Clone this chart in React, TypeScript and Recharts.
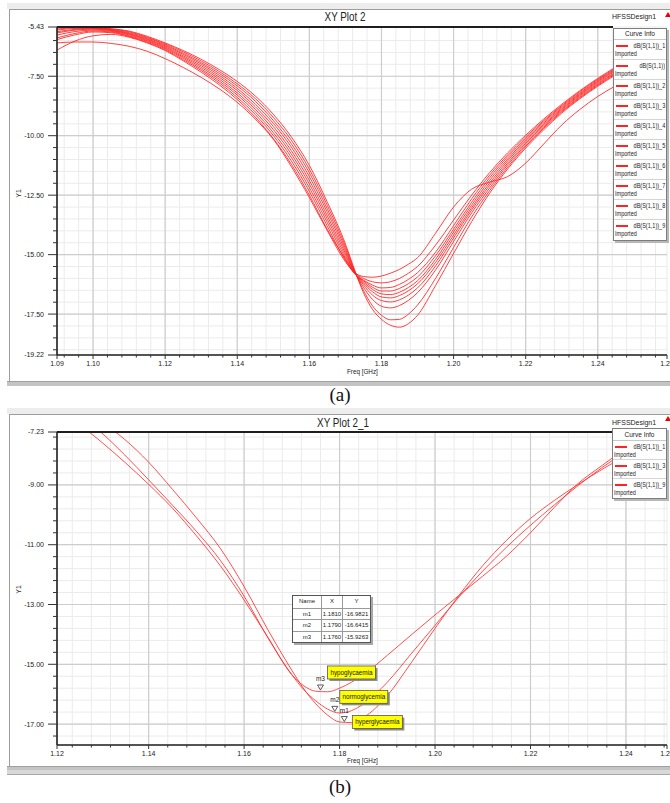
import React from 'react';
import { LineChart, Line, XAxis, YAxis, CartesianGrid, ReferenceLine, ReferenceDot } from 'recharts';

// ================= Plot (a): XY Plot 2 =================
const freqA = [1.09, 1.095, 1.1, 1.105, 1.11, 1.115, 1.12, 1.125, 1.13, 1.135, 1.14, 1.145, 1.15, 1.155, 1.16, 1.165, 1.17, 1.1725, 1.175, 1.1775, 1.18, 1.1825, 1.185, 1.1875, 1.19, 1.195, 1.2, 1.205, 1.21, 1.215, 1.22, 1.225, 1.23, 1.235, 1.24, 1.245, 1.25, 1.255, 1.26];

const dbA_1 = [-6.10, -6.06, -6.06, -6.12, -6.24, -6.45, -6.76, -7.13, -7.55, -8.03, -8.60, -9.30, -10.15, -11.30, -12.60, -14.00, -15.30, -15.75, -15.92, -15.95, -15.90, -15.78, -15.62, -15.40, -15.13, -14.10, -13.00, -12.25, -11.95, -11.72, -11.15, -10.35, -9.55, -8.90, -8.35, -7.90, -7.50, -7.15, -6.85];
const dbA_0 = [-6.40, -6.02, -5.80, -5.74, -5.86, -6.10, -6.42, -6.85, -7.33, -7.86, -8.48, -9.22, -10.12, -11.20, -12.50, -13.95, -15.20, -15.75, -16.00, -16.14, -16.19, -16.14, -16.00, -15.78, -15.50, -14.60, -13.55, -12.50, -11.55, -10.72, -9.98, -9.30, -8.68, -8.11, -7.59, -7.11, -6.67, -6.27, -5.90];
const dbA_2 = [-5.96, -5.76, -5.64, -5.67, -5.83, -6.07, -6.38, -6.80, -7.26, -7.78, -8.39, -9.11, -9.99, -11.06, -12.34, -13.81, -15.25, -15.80, -16.07, -16.28, -16.40, -16.38, -16.25, -16.04, -15.76, -14.90, -13.78, -12.66, -11.66, -10.81, -10.05, -9.36, -8.73, -8.15, -7.63, -7.15, -6.71, -6.31, -5.94];
const dbA_3 = [-5.89, -5.70, -5.60, -5.64, -5.80, -6.03, -6.34, -6.74, -7.20, -7.70, -8.29, -9.00, -9.87, -10.91, -12.19, -13.66, -15.15, -15.78, -16.10, -16.37, -16.53, -16.53, -16.42, -16.22, -15.94, -15.05, -13.93, -12.80, -11.77, -10.89, -10.12, -9.41, -8.77, -8.20, -7.67, -7.19, -6.75, -6.35, -5.98];
const dbA_4 = [-5.77, -5.62, -5.56, -5.61, -5.76, -6.00, -6.30, -6.69, -7.13, -7.62, -8.20, -8.89, -9.74, -10.77, -12.03, -13.52, -15.05, -15.76, -16.15, -16.46, -16.65, -16.68, -16.58, -16.38, -16.10, -15.20, -14.05, -12.92, -11.88, -10.98, -10.18, -9.47, -8.82, -8.24, -7.71, -7.23, -6.79, -6.39, -6.02];
const dbA_5 = [-5.68, -5.56, -5.52, -5.58, -5.73, -5.96, -6.26, -6.64, -7.06, -7.54, -8.10, -8.78, -9.61, -10.63, -11.88, -13.38, -14.95, -15.74, -16.20, -16.56, -16.78, -16.82, -16.72, -16.52, -16.23, -15.33, -14.18, -13.03, -11.99, -11.06, -10.25, -9.53, -8.87, -8.28, -7.75, -7.27, -6.83, -6.43, -6.06];
const dbA_6 = [-5.63, -5.53, -5.50, -5.56, -5.70, -5.93, -6.22, -6.58, -6.99, -7.46, -8.01, -8.67, -9.48, -10.48, -11.72, -13.23, -14.85, -15.72, -16.27, -16.70, -16.93, -16.99, -16.90, -16.70, -16.40, -15.48, -14.30, -13.13, -12.09, -11.15, -10.32, -9.58, -8.91, -8.32, -7.80, -7.32, -6.88, -6.48, -6.10];
const dbA_7 = [-5.56, -5.49, -5.48, -5.54, -5.67, -5.89, -6.18, -6.53, -6.93, -7.38, -7.91, -8.55, -9.36, -10.34, -11.56, -13.09, -14.75, -15.70, -16.37, -16.88, -17.17, -17.24, -17.14, -16.92, -16.60, -15.65, -14.45, -13.25, -12.20, -11.23, -10.39, -9.64, -8.96, -8.37, -7.84, -7.36, -6.92, -6.52, -6.14];
const dbA_8 = [-5.52, -5.46, -5.46, -5.52, -5.63, -5.86, -6.14, -6.47, -6.86, -7.30, -7.82, -8.44, -9.23, -10.19, -11.41, -12.94, -14.65, -15.66, -16.50, -17.15, -17.55, -17.74, -17.72, -17.50, -17.12, -16.00, -14.70, -13.42, -12.31, -11.32, -10.45, -9.69, -9.00, -8.41, -7.88, -7.40, -6.96, -6.56, -6.18];
const dbA_9 = [-5.47, -5.44, -5.45, -5.50, -5.60, -5.82, -6.10, -6.42, -6.79, -7.22, -7.72, -8.33, -9.10, -10.05, -11.25, -12.80, -14.55, -15.62, -16.60, -17.30, -17.72, -17.97, -18.05, -17.90, -17.55, -16.30, -14.95, -13.62, -12.42, -11.40, -10.52, -9.75, -9.05, -8.45, -7.92, -7.44, -7.00, -6.60, -6.22];

const namesA = ['dB(S(1,1))_1', 'dB(S(1,1))', 'dB(S(1,1))_2', 'dB(S(1,1))_3', 'dB(S(1,1))_4', 'dB(S(1,1))_5', 'dB(S(1,1))_6', 'dB(S(1,1))_7', 'dB(S(1,1))_8', 'dB(S(1,1))_9'];
const curvesA = [dbA_1, dbA_0, dbA_2, dbA_3, dbA_4, dbA_5, dbA_6, dbA_7, dbA_8, dbA_9];

const xDomainA = [1.09, 1.2592];
const yDomainA = [-19.22, -5.43];
const xMajorA = [1.10, 1.12, 1.14, 1.16, 1.18, 1.20, 1.22, 1.24];
const xLabelsA = [1.09, 1.10, 1.12, 1.14, 1.16, 1.18, 1.20, 1.22, 1.24, 1.2592];
const xMinorA = [1.092, 1.096, 1.104, 1.108, 1.112, 1.116, 1.124, 1.128, 1.132, 1.136, 1.144, 1.148, 1.152, 1.156, 1.164, 1.168, 1.172, 1.176, 1.184, 1.188, 1.192, 1.196, 1.204, 1.208, 1.212, 1.216, 1.224, 1.228, 1.232, 1.236, 1.244, 1.248, 1.252, 1.256];
const yMajorA = [-7.5, -10, -12.5, -15, -17.5];
const yLabelsA = [-5.43, -7.5, -10, -12.5, -15, -17.5, -19.22];
const yMinorA = [-6.0, -6.5, -7.0, -8.0, -8.5, -9.0, -9.5, -10.5, -11.0, -11.5, -12.0, -13.0, -13.5, -14.0, -14.5, -15.5, -16.0, -16.5, -17.0, -18.0, -18.5, -19.0];

// ================= Plot (b): XY Plot 2_1 =================
const freqB = [1.1208, 1.125, 1.13, 1.135, 1.14, 1.145, 1.15, 1.155, 1.16, 1.165, 1.17, 1.1725, 1.175, 1.1775, 1.18, 1.1825, 1.185, 1.19, 1.195, 1.2, 1.205, 1.21, 1.215, 1.22, 1.225, 1.23, 1.235, 1.24, 1.245, 1.2486];
const dbB_1 = [-6.35, -6.90, -7.55, -8.24, -8.98, -9.78, -10.70, -11.70, -12.85, -14.10, -15.35, -15.72, -15.90, -15.92, -15.80, -15.60, -15.35, -14.70, -14.02, -13.35, -12.70, -12.05, -11.38, -10.60, -9.75, -8.95, -8.35, -7.78, -7.32, -7.02];
const dbB_3 = [-6.15, -6.62, -7.24, -8.00, -8.83, -9.68, -10.55, -11.52, -12.72, -14.12, -15.35, -15.85, -16.22, -16.50, -16.63, -16.55, -16.33, -15.60, -14.65, -13.70, -12.75, -11.88, -11.08, -10.35, -9.67, -9.02, -8.42, -7.88, -7.40, -7.08];
const dbB_9 = [-5.85, -6.30, -6.88, -7.48, -8.24, -9.15, -10.10, -11.12, -12.40, -13.85, -15.20, -15.82, -16.32, -16.70, -16.93, -16.95, -16.78, -16.05, -14.95, -13.80, -12.70, -11.70, -10.85, -10.12, -9.52, -8.98, -8.48, -8.02, -7.58, -7.28];
const namesB = ['dB(S(1,1))_1', 'dB(S(1,1))_3', 'dB(S(1,1))_9'];
const curvesB = [dbB_1, dbB_3, dbB_9];

const xDomainB = [1.1208, 1.2486];
const yDomainB = [-17.70, -7.23];
const xMajorB = [1.14, 1.16, 1.18, 1.20, 1.22, 1.24];
const xLabelsB = [1.1208, 1.14, 1.16, 1.18, 1.20, 1.22, 1.24, 1.2486];
const xMinorB = [1.124, 1.128, 1.132, 1.136, 1.144, 1.148, 1.152, 1.156, 1.164, 1.168, 1.172, 1.176, 1.184, 1.188, 1.192, 1.196, 1.204, 1.208, 1.212, 1.216, 1.224, 1.228, 1.232, 1.236, 1.244, 1.248];
const yMajorB = [-9, -11, -13, -15, -17];
const yLabelsB = [-7.23, -9, -11, -13, -15, -17];
const yMinorB = [-7.4, -7.8, -8.2, -8.6, -9.4, -9.8, -10.2, -10.6, -11.4, -11.8, -12.2, -12.6, -13.4, -13.8, -14.2, -14.6, -15.4, -15.8, -16.2, -16.6, -17.4];

// markers
const markerNames = ['m1', 'm2', 'm3'];
const markerX = [1.181, 1.179, 1.176];
const markerY = [-16.9821, -16.6415, -15.9263];
const markerTags = ['hyperglycaemia', 'normoglycemia', 'hypoglycaemia'];

// ---------- layout (not data) ----------
const tagLayout = [
  { dx: 8, dy: -8, w: 50 },
  { dx: 5, dy: -23, w: 48 },
  { dx: 7, dy: -26, w: 48 },
];

const FONT = '"Liberation Sans", Arial, Helvetica, sans-serif';
const isIn = (v: number, list: number[]) => list.some((t) => Math.abs(t - v) < 1e-7);

const buildTable = (freq: number[], curves: number[][]) =>
  freq.map((f, k) => {
    const row: Record<string, number> = { f };
    curves.forEach((c, i) => {
      row['s' + i] = c[k];
    });
    return row;
  });

const tableA = buildTable(freqA, curvesA);
const tableB = buildTable(freqB, curvesB);

const makeYTick = (labeled: number[]) => (props: any) => {
  const { x, y, payload } = props;
  const v = payload.value as number;
  const lab = isIn(v, labeled);
  const len = lab ? 9 : 4;
  return (
    <g>
      <line x1={x - len} y1={y} x2={x} y2={y} stroke="#333" strokeWidth={1} />
      {lab && (
        <text x={x - 13} y={y} dy="0.35em" textAnchor="end" fontSize={7} fontFamily={FONT} fill="#222">
          {v.toFixed(2)}
        </text>
      )}
    </g>
  );
};

const makeXTick = (labeled: number[]) => (props: any) => {
  const { x, y, payload } = props;
  const v = payload.value as number;
  const lab = isIn(v, labeled);
  const len = lab ? 4 : 2.5;
  return (
    <g>
      <line x1={x} y1={y} x2={x} y2={y + len} stroke="#333" strokeWidth={1} />
      {lab && (
        <text x={x} y={y + 9} dy="0.35em" textAnchor="middle" fontSize={7} fontFamily={FONT} fill="#222">
          {v.toFixed(2)}
        </text>
      )}
    </g>
  );
};

const axisLineStyle = { stroke: '#1e1e1e', strokeWidth: 1.6 };

function CurveInfo({ x, y, w, headH, rowH, names }: { x: number; y: number; w: number; headH: number; rowH: number; names: string[] }) {
  return (
    <div
      style={{
        position: 'absolute', left: x, top: y, width: w, boxSizing: 'border-box', background: '#fff',
        border: '1px solid #7d7d7d', boxShadow: '2px 2px 0 #b8b8b8', fontFamily: FONT, color: '#222', fontSize: 6.5,
      }}
    >
      <div style={{ height: headH, lineHeight: headH + 'px', textAlign: 'center', borderBottom: '1px solid #c8c8c8', whiteSpace: 'nowrap' }}>
        Curve Info
      </div>
      {names.map((n, i) => (
        <div
          key={n}
          style={{
            position: 'relative', height: rowH, boxSizing: 'border-box',
            borderBottom: i < names.length - 1 ? '1px solid #d4d4d4' : 'none', whiteSpace: 'nowrap',
          }}
        >
          <div style={{ position: 'absolute', left: 2, top: 5, width: 12, height: 1.6, background: '#ff2323' }} />
          <div style={{ position: 'absolute', right: 1, top: 2, lineHeight: '7px', transform: 'scaleX(0.85)', transformOrigin: 'right center' }}>{n}</div>
          <div style={{ position: 'absolute', left: 1, top: 10, lineHeight: '7px', transform: 'scaleX(0.85)', transformOrigin: 'left center' }}>Imported</div>
        </div>
      ))}
    </div>
  );
}

const txt = (style: React.CSSProperties): React.CSSProperties => ({ position: 'absolute', whiteSpace: 'nowrap', fontFamily: FONT, color: '#222', ...style });

function Panel({ top, height, bottomBar }: { top: number; height: number; bottomBar: number }) {
  return (
    <>
      <div style={{ position: 'absolute', left: 7, top: top - 6, width: 663, height: 6, background: '#ededed' }} />
      <div style={{ position: 'absolute', left: 9, top, width: 661, height, background: '#fff', borderTop: '1px solid #9c9c9c', borderLeft: '1px solid #9c9c9c' }} />
      <div style={{ position: 'absolute', left: 7, top: bottomBar, width: 663, height: 4, background: '#c4c4c4', borderTop: '1px solid #a0a0a0' }} />
    </>
  );
}

function MarkerShape(i: number) {
  return (props: any) => {
    const { cx, cy } = props;
    const L = tagLayout[i];
    const bx = cx + L.dx;
    const by = cy + L.dy;
    return (
      <g>
        <text x={cx} y={cy - 11} textAnchor="middle" fontSize={6.5} fontFamily={FONT} fill="#222">{markerNames[i]}</text>
        <polygon points={`${cx - 3},${cy - 7} ${cx + 3},${cy - 7} ${cx},${cy - 2}`} fill="none" stroke="#333" strokeWidth={0.8} />
        <rect x={bx + 2} y={by + 2} width={L.w} height={13} fill="#8c8c8c" />
        <rect x={bx} y={by} width={L.w} height={13} fill="#ffff00" stroke="#555" strokeWidth={0.8} />
        <text x={bx + L.w / 2} y={by + 6.5} dy="0.35em" textAnchor="middle" fontSize={6.3} fontFamily={FONT} fill="#111">{markerTags[i]}</text>
      </g>
    );
  };
}

function MarkerTable({ x, y }: { x: number; y: number }) {
  const colW = [28, 21, 28];
  const rowH = 11.6;
  const rows = [['Name', 'X', 'Y'], ...markerNames.map((n, i) => [n, markerX[i].toFixed(4), markerY[i].toFixed(4)])];
  return (
    <div style={{ position: 'absolute', left: x, top: y, background: '#fff', border: '1px solid #555', boxShadow: '2px 2px 0 #a8a8a8', fontFamily: FONT, fontSize: 6, color: '#222' }}>
      {rows.map((r, ri) => (
        <div key={ri} style={{ display: 'flex', height: rowH, borderTop: ri ? '1px solid #9a9a9a' : 'none', boxSizing: 'border-box' }}>
          {r.map((c, ci) => (
            <div key={ci} style={{ width: colW[ci], lineHeight: rowH - 1 + 'px', textAlign: 'center', borderLeft: ci ? '1px solid #9a9a9a' : 'none', boxSizing: 'border-box', whiteSpace: 'nowrap' }}>
              {c}
            </div>
          ))}
        </div>
      ))}
    </div>
  );
}

export default function App() {
  const keysA = curvesA.map((_, i) => 's' + i);
  const keysB = curvesB.map((_, i) => 's' + i);
  return (
    <div style={{ position: 'absolute', left: 0, top: 0, width: 670, height: 803, overflow: 'hidden', background: '#fff' }}>
      {/* ---------- (a) ---------- */}
      <Panel top={9} height={373} bottomBar={381} />
      <div style={txt({ left: 345, top: 10, fontSize: 12, transform: 'translateX(-50%) scaleX(0.82)' })}>XY Plot 2</div>
      <div style={txt({ left: 612, top: 12, fontSize: 8, transform: 'scaleX(0.87)', transformOrigin: 'left center' })}>HFSSDesign1</div>
      <div style={{ position: 'absolute', left: 665, top: 12, width: 0, height: 0, borderLeft: '3px solid transparent', borderRight: '3px solid transparent', borderBottom: '5px solid #e00' }} />
      <div style={{ position: 'absolute', left: 0, top: 0 }}>
        <LineChart width={670} height={400} data={tableA} margin={{ top: 27, right: 3, bottom: 25, left: 7 }}>
          <CartesianGrid stroke="#ebebeb" strokeWidth={1} />
          {xMajorA.map((v) => (
            <ReferenceLine key={'xa' + v} x={v} stroke="#cdcdcd" strokeWidth={1.2} />
          ))}
          {yMajorA.map((v) => (
            <ReferenceLine key={'ya' + v} y={v} stroke="#cdcdcd" strokeWidth={1.2} />
          ))}
          <XAxis dataKey="f" type="number" domain={xDomainA} allowDataOverflow ticks={[...xLabelsA, ...xMinorA]} interval={0}
            tickSize={0} tickMargin={0} tickLine={false} tick={makeXTick(xLabelsA)} axisLine={axisLineStyle} height={20} />
          <YAxis type="number" domain={yDomainA} allowDataOverflow ticks={[...yLabelsA, ...yMinorA]} interval={0}
            tickSize={0} tickMargin={0} tickLine={false} tick={makeYTick(yLabelsA)} axisLine={axisLineStyle} width={50} />
          {keysA.map((k) => (
            <Line key={k} dataKey={k} type="monotone" stroke="#ff2020" strokeOpacity={0.85} strokeWidth={1} dot={false} activeDot={false} isAnimationActive={false} />
          ))}
        </LineChart>
      </div>
      <div style={{ position: 'absolute', left: 57, top: 26, width: 556, height: 2, background: '#1e1e1e' }} />
      <CurveInfo x={613} y={28} w={54} headH={10} rowH={20} names={namesA} />
      <div style={txt({ left: 14, top: 190, fontSize: 7, transform: 'rotate(-90deg)' })}>Y1</div>
      <div style={txt({ left: 347, top: 368, fontSize: 7, transform: 'scaleX(0.9)', transformOrigin: 'left center' })}>Freq [GHz]</div>
      <div style={{ position: 'absolute', left: 340, top: 384, transform: 'translateX(-50%)', fontFamily: '"Liberation Serif", "Times New Roman", serif', fontSize: 19, color: '#111', whiteSpace: 'nowrap' }}>(a)</div>

      {/* ---------- (b) ---------- */}
      <Panel top={414} height={352} bottomBar={766} />
      <div style={{ position: 'absolute', left: 7, top: 770, width: 663, height: 4, background: '#d8d8d8', borderBottom: '1px solid #a8a8a8' }} />
      <div style={txt({ left: 343, top: 416, fontSize: 12, transform: 'translateX(-50%) scaleX(0.82)' })}>XY Plot 2_1</div>
      <div style={txt({ left: 612, top: 418, fontSize: 8, transform: 'scaleX(0.87)', transformOrigin: 'left center' })}>HFSSDesign1</div>
      <div style={{ position: 'absolute', left: 665, top: 416, width: 0, height: 0, borderLeft: '3px solid transparent', borderRight: '3px solid transparent', borderBottom: '5px solid #e00' }} />
      <div style={{ position: 'absolute', left: 0, top: 400 }}>
        <LineChart width={670} height={400} data={tableB} margin={{ top: 32, right: 3, bottom: 35, left: 7 }}>
          <CartesianGrid stroke="#ebebeb" strokeWidth={1} />
          {xMajorB.map((v) => (
            <ReferenceLine key={'xb' + v} x={v} stroke="#cdcdcd" strokeWidth={1.2} />
          ))}
          {yMajorB.map((v) => (
            <ReferenceLine key={'yb' + v} y={v} stroke="#cdcdcd" strokeWidth={1.2} />
          ))}
          <XAxis dataKey="f" type="number" domain={xDomainB} allowDataOverflow ticks={[...xLabelsB, ...xMinorB]} interval={0}
            tickSize={0} tickMargin={0} tickLine={false} tick={makeXTick(xLabelsB)} axisLine={axisLineStyle} height={20} />
          <YAxis type="number" domain={yDomainB} allowDataOverflow ticks={[...yLabelsB, ...yMinorB]} interval={0}
            tickSize={0} tickMargin={0} tickLine={false} tick={makeYTick(yLabelsB)} axisLine={axisLineStyle} width={50} />
          {keysB.map((k) => (
            <Line key={k} dataKey={k} type="monotone" stroke="#ff3030" strokeOpacity={0.85} strokeWidth={1} dot={false} activeDot={false} isAnimationActive={false} />
          ))}
          {markerNames.map((m, i) => (
            <ReferenceDot key={m} x={markerX[i]} y={markerY[i]} r={0} ifOverflow="visible" shape={MarkerShape(i)} />
          ))}
        </LineChart>
      </div>
      <div style={{ position: 'absolute', left: 57, top: 431, width: 555, height: 2, background: '#1e1e1e' }} />
      <CurveInfo x={612} y={428} w={55} headH={11} rowH={19} names={namesB} />
      <MarkerTable x={292} y={595} />
      <div style={txt({ left: 14, top: 586, fontSize: 7, transform: 'rotate(-90deg)' })}>Y1</div>
      <div style={txt({ left: 347, top: 757, fontSize: 7, transform: 'scaleX(0.9)', transformOrigin: 'left center' })}>Freq [GHz]</div>
      <div style={{ position: 'absolute', left: 340, top: 776, transform: 'translateX(-50%)', fontFamily: '"Liberation Serif", "Times New Roman", serif', fontSize: 19, color: '#111', whiteSpace: 'nowrap' }}>(b)</div>
    </div>
  );
}
